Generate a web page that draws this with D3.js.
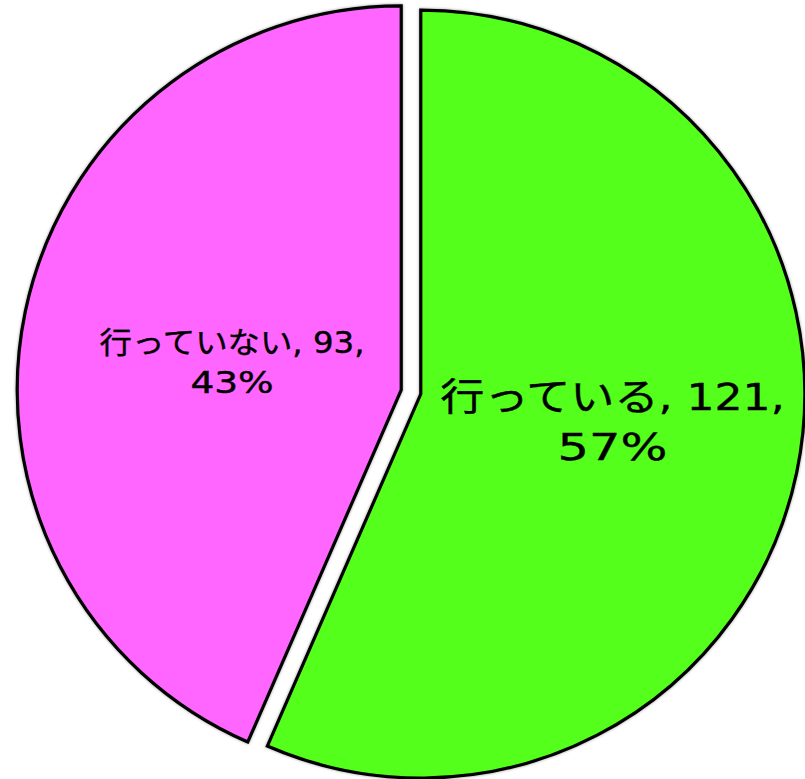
<!DOCTYPE html>
<html>
<head>
<meta charset="utf-8">
<script src="https://cdn.jsdelivr.net/npm/d3@7"></script>
<style>
  body { margin: 0; background: #fff; }
  svg { display: block; }
</style>
</head>
<body>
<svg id="chart" width="805" height="779"></svg>
<script>
// data
const categories = ["行っている", "行っていない"];
const counts = [121, 93];
const percents = ["57%", "43%"];
const colors = ["#55ff1a", "#ff66ff"];

const svg = d3.select("#chart");
const cx = 411, cy = 392, r = 384, explode = 10;

const rows = categories.map((c, i) => ({ name: c, value: counts[i], pct: percents[i], color: colors[i] }));

const pie = d3.pie().sort(null).value(d => d.value);
const arc = d3.arc().innerRadius(0).outerRadius(r);
const arcs = pie(rows);

// soft shadow around outline
const defs = svg.append("defs");
const f = defs.append("filter").attr("id", "soft").attr("x", "-10%").attr("y", "-10%").attr("width", "120%").attr("height", "120%");
f.append("feGaussianBlur").attr("in", "SourceAlpha").attr("stdDeviation", 1.5).attr("result", "b");
f.append("feComponentTransfer").attr("in", "b").attr("result", "s")
  .append("feFuncA").attr("type", "linear").attr("slope", 0.4);
const m = f.append("feMerge");
m.append("feMergeNode").attr("in", "s");
m.append("feMergeNode").attr("in", "SourceGraphic");

function offset(d, k) {
  const a = (d.startAngle + d.endAngle) / 2;
  return [Math.sin(a) * k, -Math.cos(a) * k];
}

const g = svg.append("g").attr("transform", `translate(${cx},${cy})`);

const slices = g.selectAll("g.slice")
  .data(arcs)
  .enter()
  .append("g")
  .attr("class", "slice")
  .attr("transform", d => { const o = offset(d, explode); return `translate(${o[0]},${o[1]})`; });

slices.append("path")
  .attr("d", arc)
  .attr("fill", d => d.data.color)
  .attr("stroke", "#000")
  .attr("stroke-width", 3.2)
  .attr("stroke-linejoin", "miter")
  .attr("filter", "url(#soft)");

// label placement: radial fraction, font size, line gap, horizontal stretch per line
const labelFrac = [0.51, 0.45];
const labelShift = [-12, 8];
const fontSize = [38, 30];
const lineGap = [50, 40];
const stretch = [[1.16, 1.3], [1.08, 1.25]];

slices.each(function (d, i) {
  const a = (d.startAngle + d.endAngle) / 2;
  const lr = r * labelFrac[i];
  const x = Math.sin(a) * lr, y = -Math.cos(a) * lr + labelShift[i];
  const t = d3.select(this).append("g")
    .attr("transform", `translate(${x},${y})`)
    .style("font-family", "'DejaVu Sans', 'Noto Sans CJK JP', sans-serif")
    .style("font-size", fontSize[i] + "px")
    .attr("text-anchor", "middle")
    .attr("fill", "#000")
    .attr("stroke", "#000")
    .attr("stroke-width", 0.4);
  t.append("text")
    .attr("transform", `translate(0,${-lineGap[i] / 2 + fontSize[i] * 0.35}) scale(${stretch[i][0]},1)`)
    .text(`${d.data.name}, ${d.data.value},`);
  t.append("text")
    .attr("transform", `translate(0,${lineGap[i] / 2 + fontSize[i] * 0.35}) scale(${stretch[i][1]},1)`)
    .text(d.data.pct);
});
</script>
</body>
</html>
